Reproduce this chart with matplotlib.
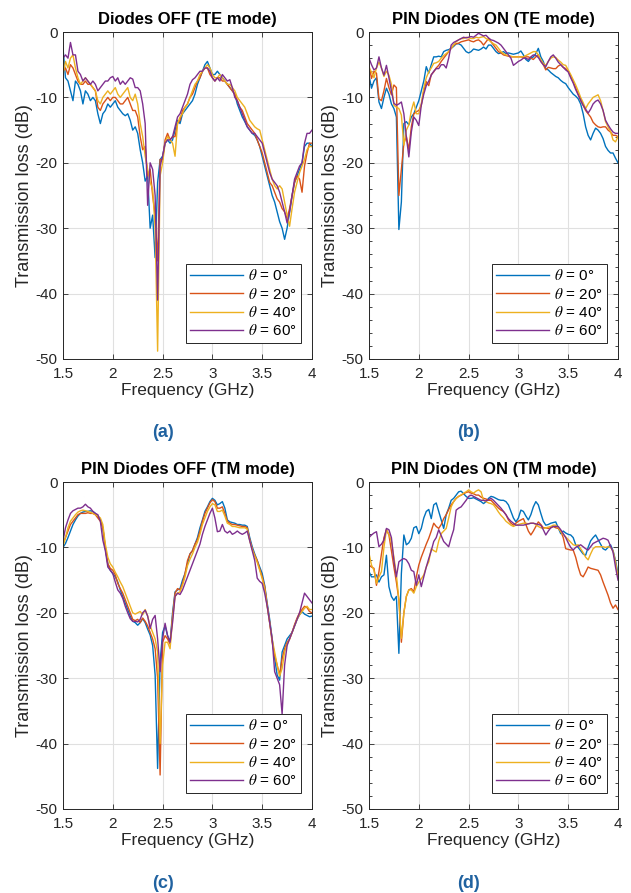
import numpy as np
import matplotlib
matplotlib.use('Agg')
import matplotlib.pyplot as plt
from matplotlib.ticker import MultipleLocator

plt.rcParams['font.family'] = ['Liberation Sans', 'DejaVu Sans']
plt.rcParams['mathtext.fontset'] = 'stix'
plt.rcParams['axes.unicode_minus'] = False

# measurement grid, 1.5-4 GHz every 25 MHz
FREQ = np.linspace(1.5, 4.0, 101)
ANGLES = ['0', '20', '40', '60']
COLORS = ['#0072BD', '#D95319', '#EDB120', '#7E2F8E']
TITLES = ['Diodes OFF (TE mode)', 'PIN Diodes ON (TE mode)',
          'PIN Diodes OFF (TM mode)', 'PIN Diodes ON (TM mode)']
TAGS = ['(a)', '(b)', '(c)', '(d)']

# (a) diodes OFF, TE
a0 = [-2.5, -7.0, -7.5, -9.0, -10.5, -7.5, -8.0, -9.0, -11.0, -9.0,
      -9.5, -10.5, -10.0, -10.5, -12.5, -14.0, -12.5, -12.0, -11.0, -11.5,
      -11.0, -10.5, -11.5, -12.0, -12.5, -12.8, -12.5, -13.5, -15.0, -14.5,
      -15.5, -18.0, -20.0, -22.8, -22.0, -30.0, -28.0, -34.5, -23.0, -19.5,
      -19.0, -17.0, -16.5, -17.0, -16.5, -15.0, -13.5, -14.0, -12.5, -12.0,
      -11.5, -11.0, -10.5, -9.5, -8.0, -7.0, -6.0, -5.0, -4.5, -5.5,
      -6.5, -6.5, -6.0, -6.5, -7.0, -7.5, -8.0, -8.5, -9.0, -9.5,
      -11.0, -12.0, -13.0, -13.7, -14.5, -15.0, -15.5, -15.8, -16.5, -17.5,
      -19.0, -20.5, -22.0, -23.5, -25.0, -26.0, -27.5, -29.0, -30.0, -31.7,
      -30.0, -27.5, -25.0, -23.0, -22.0, -21.0, -20.0, -17.5, -17.0, -17.0, -17.5]
a20 = [-6.0, -5.5, -6.5, -5.0, -5.5, -6.5, -7.5, -8.0, -8.0, -7.5,
       -8.0, -8.0, -8.5, -9.0, -11.5, -12.0, -11.0, -10.5, -10.0, -10.5,
       -10.0, -10.0, -10.5, -11.0, -11.0, -10.5, -10.0, -11.0, -12.0, -12.0,
       -13.0, -16.0, -18.0, -17.5, -22.0, -21.0, -25.0, -28.0, -35.0, -19.5,
       -19.5, -16.5, -15.5, -16.5, -16.0, -16.0, -14.0, -13.5, -12.0, -11.5,
       -11.0, -10.0, -9.5, -8.5, -7.5, -7.0, -6.0, -5.5, -5.5, -6.5,
       -7.0, -7.5, -7.0, -7.0, -7.5, -7.5, -8.0, -8.5, -9.0, -9.5,
       -10.5, -11.5, -12.0, -13.0, -14.0, -14.5, -15.0, -15.5, -16.5, -17.5,
       -18.5, -20.0, -21.5, -23.0, -23.5, -24.5, -25.5, -26.0, -27.0, -27.5,
       -28.5, -27.0, -25.0, -23.0, -22.0, -22.5, -24.5, -20.5, -18.5, -17.0, -17.0]
a40 = [-6.5, -4.5, -5.5, -4.0, -3.5, -5.5, -7.0, -8.0, -7.5, -7.0,
       -7.5, -8.0, -8.5, -9.0, -10.5, -11.0, -10.0, -9.5, -9.0, -9.5,
       -9.0, -8.5, -9.5, -10.0, -9.5, -9.0, -8.5, -10.0, -10.5, -9.5,
       -11.0, -14.0, -16.0, -19.0, -21.0, -23.0, -24.0, -30.0, -48.8, -22.0,
       -20.0, -17.0, -16.0, -16.5, -17.0, -19.0, -14.0, -13.0, -12.5, -11.5,
       -11.0, -10.0, -9.0, -8.0, -7.5, -6.5, -6.0, -5.5, -5.0, -5.5,
       -6.5, -7.0, -7.0, -6.5, -7.0, -7.5, -8.0, -8.0, -8.5, -9.0,
       -10.0, -10.5, -11.0, -11.5, -12.5, -13.5, -14.0, -14.5, -14.8, -15.0,
       -16.5, -18.0, -19.5, -21.0, -22.5, -23.5, -24.0, -23.5, -24.0, -26.0,
       -28.0, -29.7, -27.0, -24.5, -23.0, -21.5, -20.5, -19.5, -18.0, -17.5, -17.5]
a60 = [-4.0, -3.5, -4.0, -1.6, -3.5, -3.5, -6.0, -6.5, -7.5, -7.0,
       -7.5, -8.0, -7.5, -8.0, -9.0, -8.5, -8.0, -7.5, -7.5, -7.0,
       -6.8, -7.5, -7.0, -8.0, -7.5, -8.0, -7.5, -7.0, -7.2, -8.5,
       -8.5, -9.0, -11.0, -14.0, -26.5, -20.0, -21.0, -25.0, -41.0, -20.5,
       -19.0, -17.0, -16.5, -16.5, -16.0, -14.5, -13.0, -12.5, -11.5, -10.5,
       -9.5, -8.0, -7.3, -7.0, -6.5, -6.0, -6.0, -5.5, -5.5, -6.0,
       -7.0, -7.5, -7.0, -7.5, -6.5, -7.0, -7.5, -7.3, -8.5, -10.0,
       -10.5, -11.5, -12.5, -13.5, -14.5, -15.0, -15.5, -15.5, -16.0, -16.5,
       -17.0, -18.5, -20.0, -21.5, -22.5, -23.0, -23.5, -24.5, -26.0, -27.5,
       -29.2, -27.5, -25.0, -22.5, -21.5, -20.5, -20.0, -17.0, -15.5, -15.5, -15.0]

# (b) PIN diodes ON, TE
b0 = [-6.6, -8.6, -7.5, -7.0, -10.7, -11.7, -10.0, -8.6, -9.5, -11.0,
      -11.7, -13.0, -30.2, -26.0, -14.0, -13.7, -14.2, -13.0, -12.5, -11.5,
      -10.5, -9.0, -7.5, -5.3, -6.3, -5.0, -3.8, -3.8, -3.7, -3.8,
      -3.0, -2.8, -2.7, -2.5, -2.2, -1.8, -1.8, -2.0, -2.5, -3.0,
      -3.2, -3.0, -2.6, -2.7, -2.8, -2.6, -2.3, -2.6, -2.0, -2.0,
      -2.5, -3.0, -3.3, -3.2, -3.0, -3.3, -3.2, -3.3, -3.4, -3.3,
      -3.2, -2.9, -3.5, -4.2, -4.5, -4.0, -3.8, -3.3, -2.5, -3.8,
      -4.5, -5.6, -5.8, -6.2, -6.5, -6.8, -7.0, -7.4, -7.7, -7.9,
      -8.5, -9.0, -9.5, -9.8, -10.2, -11.0, -12.5, -14.5, -15.8, -16.5,
      -15.5, -14.7, -15.0, -15.5, -16.3, -17.5, -18.1, -18.5, -18.5, -19.3, -20.0]
b20 = [-5.1, -7.1, -6.0, -6.3, -10.2, -10.5, -9.0, -7.1, -8.5, -9.6,
       -8.1, -8.5, -25.0, -21.0, -17.0, -16.0, -18.0, -14.5, -12.5, -12.2,
       -12.0, -11.2, -9.0, -7.6, -8.2, -6.5, -6.1, -5.5, -5.1, -4.5,
       -4.0, -3.5, -3.0, -2.5, -2.0, -1.8, -1.7, -1.5, -1.4, -1.3,
       -1.2, -1.4, -1.5, -1.3, -1.2, -1.5, -2.0, -1.5, -1.0, -1.5,
       -2.0, -2.5, -3.0, -3.2, -3.5, -3.6, -3.7, -3.8, -3.8, -3.8,
       -3.8, -3.8, -3.9, -3.8, -3.8, -4.0, -4.2, -3.8, -3.5, -4.5,
       -5.0, -5.8, -5.4, -5.5, -5.6, -5.6, -5.2, -5.0, -5.4, -5.6,
       -6.0, -6.8, -7.6, -8.5, -9.5, -10.5, -11.2, -12.0, -12.5, -13.0,
       -13.8, -14.2, -14.5, -14.6, -14.5, -14.5, -15.0, -15.3, -15.8, -15.8, -16.0]
b40 = [-5.5, -6.1, -7.0, -5.5, -4.6, -5.5, -6.8, -6.0, -6.6, -8.0,
       -11.2, -11.5, -11.7, -12.7, -17.3, -15.0, -14.2, -12.0, -10.7, -12.5,
       -12.5, -11.0, -8.6, -7.0, -6.1, -5.5, -4.8, -4.7, -4.5, -4.0,
       -3.6, -3.3, -3.0, -2.5, -2.0, -1.5, -1.2, -1.0, -1.0, -0.8,
       -0.9, -1.0, -1.0, -0.8, -0.9, -0.8, -0.7, -1.0, -1.2, -1.5,
       -1.8, -2.0, -2.5, -3.0, -3.3, -3.5, -3.6, -3.7, -3.8, -3.8,
       -3.8, -3.8, -3.8, -3.6, -3.4, -3.2, -3.0, -3.0, -3.5, -4.2,
       -4.8, -5.1, -4.5, -4.0, -3.8, -3.9, -4.3, -4.6, -5.0, -5.1,
       -5.8, -6.5, -7.3, -8.1, -9.0, -10.0, -10.8, -11.7, -11.0, -10.5,
       -10.0, -9.8, -9.6, -10.5, -12.0, -13.7, -14.5, -15.2, -16.5, -16.8, -16.0]
b60 = [-4.0, -5.0, -5.8, -5.5, -3.8, -5.5, -6.6, -5.1, -7.0, -9.0,
       -10.9, -11.2, -11.0, -10.7, -12.5, -16.0, -19.1, -15.3, -13.0, -13.5,
       -14.3, -11.2, -9.5, -8.2, -7.5, -6.6, -6.0, -5.6, -5.6, -5.0,
       -5.0, -5.5, -4.0, -2.0, -1.6, -1.4, -1.2, -1.0, -0.8, -0.9,
       -0.8, -0.7, -0.8, -0.5, -0.2, -0.4, -0.6, -0.5, -0.9, -1.2,
       -1.3, -1.5, -1.7, -2.0, -2.5, -3.0, -3.5, -4.0, -5.1, -4.8,
       -4.5, -4.3, -4.0, -4.0, -4.2, -3.8, -3.5, -3.6, -3.9, -4.5,
       -5.0, -5.3, -4.5, -3.8, -3.5, -4.0, -4.6, -5.0, -5.4, -5.8,
       -6.1, -7.0, -7.8, -8.8, -9.6, -10.4, -11.2, -11.8, -12.4, -11.8,
       -11.0, -10.6, -10.4, -11.0, -12.0, -13.5, -14.2, -14.8, -15.3, -15.5, -15.5]

# (c) PIN diodes OFF, TM
c0 = [-10.0, -9.4, -8.5, -7.5, -6.5, -5.8, -5.2, -4.8, -4.6, -4.5,
      -4.5, -4.4, -4.5, -4.8, -5.3, -5.8, -7.0, -10.2, -12.5, -13.5,
      -14.0, -14.5, -15.3, -16.5, -17.5, -18.5, -19.5, -20.5, -21.3, -21.5,
      -21.9, -21.5, -20.9, -21.5, -22.5, -23.4, -25.0, -29.5, -43.8, -27.5,
      -23.0, -22.0, -23.5, -24.5, -20.0, -16.8, -16.5, -16.3, -15.0, -14.0,
      -12.5, -11.0, -10.5, -9.5, -8.5, -7.0, -5.8, -4.5, -3.8, -3.0,
      -2.5, -2.8, -3.5, -3.3, -3.0, -4.0, -5.8, -6.1, -6.2, -6.3,
      -6.5, -6.5, -6.6, -6.6, -6.8, -8.5, -9.9, -11.0, -12.0, -13.0,
      -14.0, -15.8, -18.5, -21.0, -24.0, -27.0, -29.5, -30.3, -26.0, -25.0,
      -24.0, -23.5, -23.0, -22.0, -21.0, -20.3, -19.8, -20.2, -20.4, -20.6, -20.5]
c20 = [-9.5, -8.5, -7.5, -6.5, -6.0, -5.5, -5.0, -4.8, -4.8, -4.8,
       -4.7, -4.8, -4.8, -5.0, -5.5, -6.0, -7.0, -10.0, -12.5, -13.2,
       -13.5, -14.2, -15.5, -16.3, -17.0, -18.0, -19.0, -20.0, -21.0, -21.2,
       -21.0, -21.5, -20.8, -21.3, -22.0, -23.0, -24.0, -25.5, -30.0, -44.8,
       -24.5, -23.5, -24.0, -24.8, -20.5, -17.0, -16.3, -16.5, -15.5, -14.0,
       -12.0, -11.0, -10.5, -9.5, -8.8, -7.5, -6.0, -4.8, -4.0, -3.2,
       -2.7, -3.0, -4.0, -4.0, -3.8, -4.8, -6.0, -6.3, -6.5, -6.5,
       -6.6, -6.7, -6.8, -6.8, -7.0, -8.8, -10.2, -11.2, -12.0, -13.3,
       -14.5, -16.0, -18.8, -21.5, -24.5, -26.5, -28.0, -29.5, -27.0, -25.5,
       -24.5, -24.0, -23.0, -21.8, -20.8, -20.0, -19.5, -19.0, -19.2, -19.8, -20.0]
c40 = [-9.8, -8.5, -7.0, -6.0, -5.5, -5.0, -4.6, -4.4, -4.3, -4.4,
       -4.5, -4.6, -4.8, -5.0, -5.2, -5.5, -6.5, -9.5, -11.5, -12.5,
       -13.0, -13.8, -14.5, -15.3, -16.0, -17.0, -18.0, -19.0, -20.0, -20.2,
       -20.0, -19.8, -20.3, -19.5, -20.5, -22.0, -23.0, -24.0, -26.0, -40.0,
       -28.0, -24.5, -24.5, -25.5, -21.0, -17.5, -17.0, -16.8, -15.8, -14.5,
       -12.8, -11.8, -11.0, -10.0, -9.2, -8.0, -6.5, -5.5, -4.5, -3.8,
       -3.3, -3.5, -4.5, -4.5, -4.3, -5.2, -6.3, -6.5, -6.8, -6.8,
       -6.9, -7.0, -7.0, -7.0, -7.2, -9.0, -10.3, -11.3, -12.3, -13.5,
       -14.8, -16.3, -19.0, -21.5, -24.0, -26.0, -28.0, -29.7, -28.5, -26.0,
       -24.8, -24.0, -23.0, -22.0, -21.0, -20.3, -19.8, -19.3, -19.0, -19.5, -19.5]
c60 = [-9.0, -7.0, -5.8, -4.8, -4.4, -4.2, -4.0, -4.0, -3.8, -3.4,
       -3.8, -4.0, -4.5, -4.8, -5.0, -6.0, -8.9, -10.5, -13.0, -13.5,
       -14.0, -15.3, -16.5, -17.0, -17.8, -19.0, -20.0, -20.9, -21.3, -21.3,
       -21.4, -21.0, -20.0, -19.6, -20.5, -22.4, -21.0, -20.4, -24.0, -29.0,
       -24.0, -21.6, -23.5, -24.5, -21.5, -17.5, -17.0, -17.2, -16.5, -15.5,
       -14.5, -13.5, -12.5, -11.5, -10.5, -9.5, -8.0, -6.8, -5.8, -4.8,
       -4.0, -5.5, -7.6, -7.5, -6.5, -7.5, -7.8, -7.5, -8.0, -7.8,
       -7.5, -7.8, -8.0, -7.8, -7.5, -9.0, -10.5, -12.0, -14.7, -15.2,
       -15.5, -17.0, -19.0, -21.5, -24.0, -29.0, -30.0, -31.0, -35.5, -28.0,
       -25.0, -24.0, -23.0, -22.0, -21.0, -20.0, -18.5, -17.0, -17.5, -18.0, -18.5]

# (d) PIN diodes ON, TM
d0 = [-13.7, -14.5, -14.5, -14.2, -15.3, -14.5, -14.2, -11.2, -16.0, -17.5,
      -18.1, -17.5, -26.2, -14.0, -8.1, -9.6, -9.3, -8.6, -7.0, -6.8,
      -7.9, -7.1, -5.5, -4.5, -4.2, -5.6, -3.5, -3.2, -4.5, -5.8,
      -7.1, -5.0, -4.0, -2.8, -2.5, -2.0, -1.5, -1.4, -1.8, -2.2,
      -2.5, -2.5, -2.4, -2.6, -2.8, -3.0, -3.3, -3.0, -2.5, -2.2,
      -2.3, -2.5, -2.7, -2.8, -2.8, -3.0, -3.5, -4.5, -5.5, -6.1,
      -5.5, -4.3, -4.5, -5.2, -5.8, -5.0, -3.8, -3.0, -3.5, -4.8,
      -6.0, -6.6, -6.5, -6.3, -6.2, -6.1, -7.0, -7.9, -7.5, -7.8,
      -8.0, -8.1, -8.5, -9.6, -10.0, -10.5, -11.0, -11.2, -10.0, -9.0,
      -8.5, -8.1, -8.8, -9.5, -10.2, -10.4, -10.0, -9.6, -10.5, -12.0, -14.0]
d20 = [-12.7, -13.0, -13.2, -15.8, -13.7, -11.0, -8.5, -7.3, -8.1, -10.5,
       -13.0, -15.3, -18.0, -24.5, -20.0, -17.5, -16.5, -16.3, -16.8, -14.5,
       -12.7, -11.5, -10.5, -9.5, -8.6, -7.5, -6.3, -6.8, -7.1, -6.5,
       -5.6, -5.0, -4.2, -3.5, -3.0, -2.5, -2.2, -2.0, -1.8, -1.6,
       -1.5, -1.7, -1.8, -2.0, -2.0, -2.3, -2.5, -2.6, -2.8, -2.8,
       -3.2, -3.6, -4.0, -4.3, -4.5, -5.0, -5.8, -6.3, -6.6, -6.3,
       -6.0, -5.8, -5.6, -6.5, -7.5, -8.1, -7.5, -6.8, -6.1, -6.5,
       -7.0, -7.0, -7.1, -7.0, -6.8, -7.0, -7.1, -7.5, -8.5, -10.2,
       -10.3, -10.4, -10.4, -11.5, -13.0, -14.2, -14.5, -13.8, -13.0, -13.2,
       -13.3, -13.4, -13.5, -14.2, -15.3, -16.3, -17.3, -18.5, -19.3, -18.8, -19.5]
d40 = [-10.9, -12.7, -13.5, -15.5, -14.5, -13.7, -10.0, -7.3, -8.0, -9.1,
       -11.5, -14.2, -18.0, -23.9, -20.0, -17.5, -16.5, -16.5, -17.0, -16.0,
       -15.3, -14.8, -14.2, -13.0, -12.2, -10.2, -10.5, -10.7, -9.0, -7.9,
       -7.5, -7.1, -5.5, -3.8, -3.0, -2.5, -2.2, -2.0, -1.7, -1.5,
       -1.2, -1.5, -1.7, -1.4, -1.2, -1.5, -2.8, -3.0, -3.2, -3.3,
       -3.5, -4.0, -4.6, -5.1, -5.5, -6.0, -6.3, -6.6, -6.8, -6.6,
       -6.5, -6.4, -6.3, -6.3, -6.4, -6.3, -6.3, -6.5, -6.8, -7.0,
       -7.1, -7.0, -6.9, -6.8, -6.6, -6.6, -7.0, -7.6, -8.0, -8.4,
       -8.8, -9.2, -9.6, -9.7, -9.6, -10.2, -10.8, -11.5, -11.9, -11.0,
       -10.2, -9.9, -9.9, -9.9, -9.9, -10.0, -9.9, -10.0, -10.5, -12.2, -14.5]
d60 = [-8.5, -8.1, -7.8, -7.6, -9.9, -9.5, -8.9, -7.1, -7.3, -8.5,
       -12.0, -14.5, -12.2, -11.9, -11.7, -11.9, -12.5, -13.5, -13.7, -15.8,
       -14.2, -16.0, -14.5, -13.0, -11.7, -10.5, -9.1, -8.5, -7.3, -8.2,
       -9.1, -9.5, -9.9, -8.5, -7.3, -4.3, -4.0, -3.8, -3.3, -2.8,
       -2.2, -2.0, -2.2, -2.4, -2.6, -2.8, -2.8, -2.9, -2.7, -2.5,
       -2.8, -3.2, -3.6, -4.0, -4.5, -5.0, -5.6, -6.0, -6.3, -6.6,
       -6.6, -6.6, -6.6, -6.5, -6.4, -6.3, -6.3, -6.4, -6.5, -6.6,
       -7.3, -8.1, -7.5, -7.0, -6.8, -6.8, -6.8, -7.3, -7.9, -8.5,
       -9.3, -10.0, -10.4, -10.0, -9.8, -9.6, -9.9, -10.2, -10.4, -9.9,
       -9.4, -9.2, -9.0, -8.8, -8.6, -8.7, -8.9, -9.8, -10.7, -13.0, -15.0]

PANELS = [[a0, a20, a40, a60], [b0, b20, b40, b60],
          [c0, c20, c40, c60], [d0, d20, d40, d60]]

fig = plt.figure(figsize=(6.31, 8.93), dpi=100)
W, H = 631.0, 893.0
boxes = [(63, 32), (369, 32), (63, 482), (369, 482)]   # left, top in px
aw, ah = 249, 327

for k, (series, (lx, ty)) in enumerate(zip(PANELS, boxes)):
    ax = fig.add_axes([lx / W, 1 - (ty + ah) / H, aw / W, ah / H])
    for ys, c, ang in zip(series, COLORS, ANGLES):
        ax.plot(FREQ, ys, color=c, lw=1.0, label=r'$\theta$ = ' + ang + '°')
    ax.set_xlim(1.5, 4)
    ax.set_ylim(-50, 0)
    ax.set_xticks([1.5, 2, 2.5, 3, 3.5, 4])
    ax.set_xticklabels(['1.5', '2', '2.5', '3', '3.5', '4'])
    ax.set_yticks([-50, -40, -30, -20, -10, 0])
    if k in (1, 3):
        ax.yaxis.set_minor_locator(MultipleLocator(2))
        ax.tick_params(axis='y', which='minor', direction='in', length=2.2,
                       width=0.6, left=True, right=True, color='#262626')
    ax.grid(True, color='#e0e0e0', lw=0.8)
    ax.set_axisbelow(True)
    ax.tick_params(axis='both', which='major', direction='in', length=3.5, width=0.6,
                   top=True, right=True, labelsize=11, colors='#262626', pad=4)
    ax.tick_params(axis='x', which='major', pad=5.5)
    for s in ax.spines.values():
        s.set_color('#262626')
        s.set_linewidth(0.7)
    ax.set_title(TITLES[k], fontsize=12, fontweight='bold', pad=5.5)
    ax.set_xlabel('Frequency (GHz)', fontsize=12.5, color='#262626', labelpad=2)
    ax.set_ylabel('Transmission loss (dB)', fontsize=13, color='#262626', labelpad=1.5)
    leg = ax.legend(loc='lower right', bbox_to_anchor=(0.956, 0.049), borderaxespad=0,
                    fontsize=11, handlelength=3.45, handletextpad=0.3,
                    labelspacing=0.22, borderpad=0.3, fancybox=False, framealpha=1)
    leg.get_frame().set_edgecolor('#262626')
    leg.get_frame().set_linewidth(0.7)
    fig.text((lx + 100) / W, 1 - (ty + 401) / H, TAGS[k], fontsize=13, fontweight='bold',
             color='#2062a0', ha='center', va='center')

fig.savefig('out.png', dpi=100)
